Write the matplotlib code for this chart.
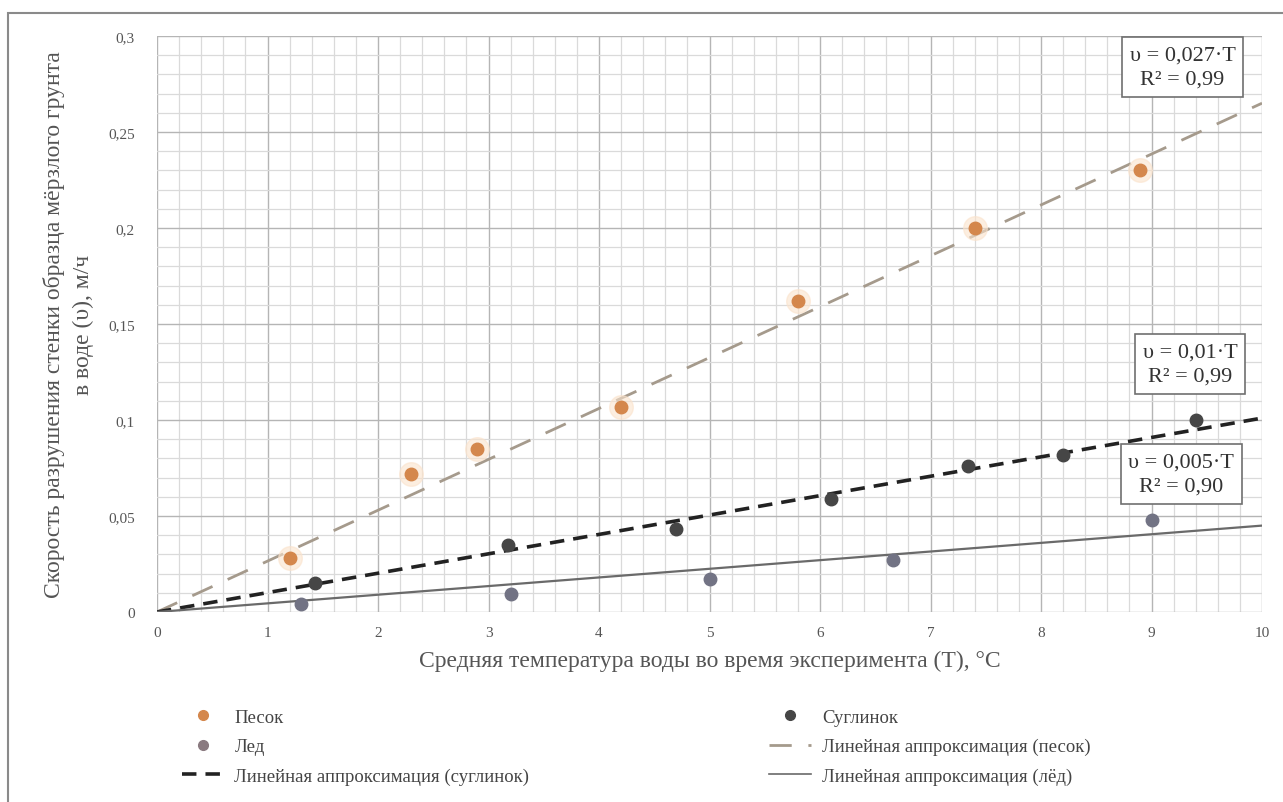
import matplotlib
matplotlib.use("Agg")
import matplotlib.pyplot as plt
from matplotlib.patches import Rectangle
from matplotlib.lines import Line2D
import numpy as np

plt.rcParams['font.family'] = ['Liberation Serif', 'DejaVu Serif']

# data
sand_t = [1.2, 2.3, 2.9, 4.2, 5.8, 7.4, 8.9]
sand_v = [0.028, 0.072, 0.085, 0.107, 0.162, 0.200, 0.230]
loam_t = [1.43, 3.18, 4.7, 6.1, 7.34, 8.2, 9.4]
loam_v = [0.015, 0.035, 0.043, 0.059, 0.076, 0.082, 0.100]
ice_t = [1.3, 3.2, 5.0, 6.66, 9.0]
ice_v = [0.004, 0.0095, 0.017, 0.027, 0.048]

fit_t = [0, 10]
sand_k = 0.0265
loam_k = 0.0101
ice_k = 0.0045

labels = ['Песок', 'Суглинок', 'Лед',
          'Линейная аппроксимация (песок)',
          'Линейная аппроксимация (суглинок)',
          'Линейная аппроксимация (лёд)']
eq_texts = ['υ = 0,027·T\nR² = 0,99', 'υ = 0,01·T\nR² = 0,99', 'υ = 0,005·T\nR² = 0,90']

c_sand = '#d4874c'
c_loam = '#464646'
c_ice = '#727384'
c_txt = '#555555'

fig = plt.figure(figsize=(12.83, 8.03), dpi=100)
fig.patches.append(Rectangle((8/1283, -0.1), 1.2, 1.0826, transform=fig.transFigure,
                             fill=False, edgecolor='#8a8a8a', lw=1.5))
ax = fig.add_axes([157/1283, 1-613/803, 1105/1283, 576/803])

ax.set_xlim(0, 10)
ax.set_ylim(0, 0.3)
ax.set_xticks(np.arange(0, 11, 1))
ax.set_yticks(np.arange(0, 0.301, 0.05))
ax.set_xticks(np.arange(0, 10.01, 0.2), minor=True)
ax.set_yticks(np.arange(0, 0.301, 0.01), minor=True)
ax.set_xticklabels([str(i) for i in range(11)])
ax.set_yticklabels(['0', '0,05', '0,1', '0,15', '0,2', '0,25', '0,3'])
ax.grid(which='major', color='#b5b5b5', lw=1.0)
ax.grid(which='minor', color='#dadada', lw=0.9)
ax.set_axisbelow(True)
for s in ax.spines.values():
    s.set_visible(False)
ax.tick_params(which='both', length=0, colors=c_txt, labelsize=11)
ax.tick_params(axis='x', pad=10)
ax.tick_params(axis='y', pad=16)

ft = np.array(fit_t)
l_sand, = ax.plot(ft, sand_k*ft, color='#a59a8c', lw=2, dashes=(8, 6))
l_loam, = ax.plot(ft, loam_k*ft, color='#222222', lw=2.6, dashes=(4, 2.5))
l_ice, = ax.plot(ft, ice_k*ft, color='#6a6a6a', lw=1.6)

ax.plot(sand_t, sand_v, 'o', color='#fbe3cc', ms=17, alpha=0.6, zorder=3)
m_sand, = ax.plot(sand_t, sand_v, 'o', color=c_sand, ms=9, zorder=4)
m_loam, = ax.plot(loam_t, loam_v, 'o', color=c_loam, ms=9, zorder=4)
m_ice, = ax.plot(ice_t, ice_v, 'o', color=c_ice, ms=9, zorder=4)

box = dict(boxstyle='square,pad=0.35', fc='white', ec='#707070', lw=1.2)
ax.text(9.28, 0.2952, eq_texts[0], ha='center', va='top', fontsize=16, color='#333333',
        linespacing=1.4, bbox=box, zorder=6)
ax.text(9.35, 0.1405, eq_texts[1], ha='center', va='top', fontsize=16, color='#333333',
        linespacing=1.4, bbox=box, zorder=6)
ax.text(9.27, 0.0832, eq_texts[2], ha='center', va='top', fontsize=16, color='#333333',
        linespacing=1.4, bbox=box, zorder=6)

ax.set_xlabel('Средняя температура воды во время эксперимента (T), °C',
              fontsize=17, color=c_txt, labelpad=8)
ax.set_ylabel('Скорость разрушения стенки образца мёрзлого грунта\nв воде (υ), м/ч',
              fontsize=17, color=c_txt, labelpad=10, linespacing=1.5)

h_sand = Line2D([], [], ls='none', marker='o', color=c_sand, ms=7)
h_loam = Line2D([], [], ls='none', marker='o', color=c_loam, ms=7)
h_ice = Line2D([], [], ls='none', marker='o', color='#8a7a80', ms=7)
h_lsand = Line2D([], [], color='#a59a8c', lw=2, dashes=(8, 6))
h_lloam = Line2D([], [], color='#222222', lw=2.6, dashes=(4, 2.5))
h_lice = Line2D([], [], color='#6a6a6a', lw=1.2)
handles = [h_sand, h_ice, h_lloam, h_loam, h_lsand, h_lice]
leg_labels = [labels[0], labels[2], labels[4], labels[1], labels[3], labels[5]]
fig.legend(handles, leg_labels, ncol=2, loc='upper left',
           bbox_to_anchor=(165/1283, 1-693/803), frameon=False, fontsize=13.5,
           labelcolor='#444444', columnspacing=12.8, handlelength=2.2,
           labelspacing=0.65, handletextpad=0.6)

fig.savefig('out.png', dpi=100)
